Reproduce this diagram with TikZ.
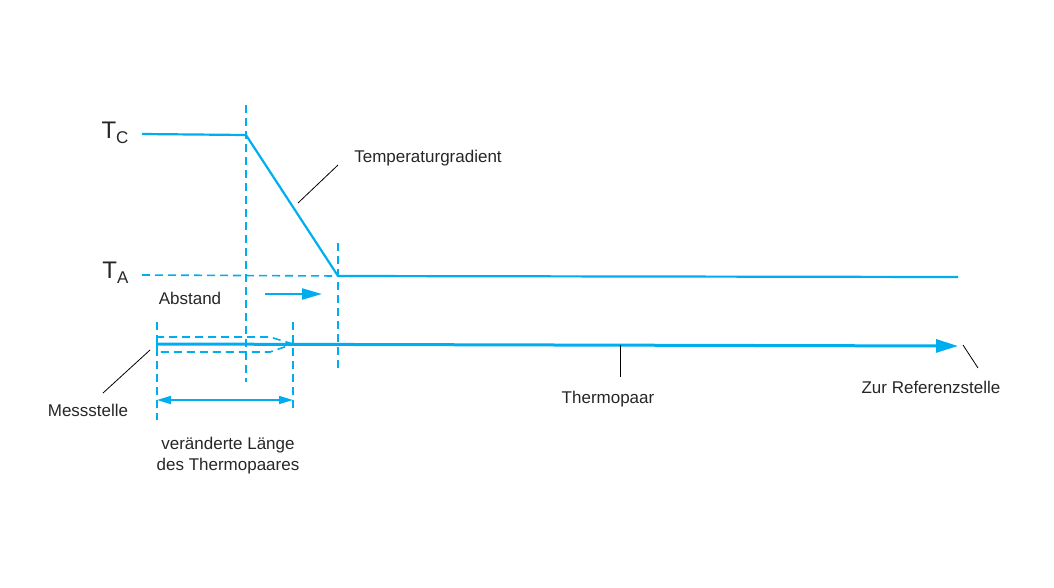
\documentclass[tikz,border=0pt]{standalone}
\usepackage{fontspec}
\setmainfont{Liberation Sans}
\usetikzlibrary{arrows.meta}
\definecolor{cy}{RGB}{0,174,239}
\begin{document}
\begin{tikzpicture}[x=1pt,y=-1pt,
  ln/.style={cy,line width=2.2pt},
  dsh/.style={cy,line width=1.6pt,dash pattern=on 8pt off 5pt},
  lbl/.style={font=\fontsize{17}{21}\selectfont,text=black!85,inner sep=1pt},
  lead/.style={black,line width=0.8pt}]
\useasboundingbox (0,0) rectangle (1054,587);
% coordinates
\coordinate (c1) at (142,134);
\coordinate (c2) at (246,135);
\coordinate (c3) at (338,276);
\coordinate (c4) at (958,277);
\coordinate (a1) at (142,275);
\coordinate (p0) at (157,344);
\coordinate (p1) at (958,346);
% TC / gradient / TA
\draw[ln,line join=miter] (c1) -- (c2) -- (c3) -- (c4);
\draw[dsh] (a1) -- (c3);
\node[font=\fontsize{24}{26}\selectfont,text=black!85,anchor=east] (tc) at (132,133) {T\raisebox{-5pt}{\fontsize{17}{19}\selectfont C}};
\node[font=\fontsize{24}{26}\selectfont,text=black!85,anchor=east] (ta) at (132,273) {T\raisebox{-5pt}{\fontsize{17}{19}\selectfont A}};
% vertical dashed
\draw[dsh] (246,105) -- (246,382);
\draw[dsh] (338,243) -- (338,370);
\draw[dsh] (157,322) -- (157,420);
\draw[dsh] (293,322) -- (293,412);
% probe outline
\draw[dsh] (293,344) -- (270,337) -- (157,337) -- (157,352) -- (270,352) -- cycle;
% thermocouple
\draw[ln,line width=3pt,-{Triangle[length=22pt,width=13pt]}] (p0) -- (p1);
% Abstand arrow
\coordinate (ab1) at (265,294);
\coordinate (ab2) at (322,294);
\draw[ln,-{Triangle[length=20pt,width=11pt]}] (ab1) -- (ab2);
\node[lbl] (abst) at (190,298) {Abstand};
% dimension
\coordinate (d1) at (157,400);
\coordinate (d2) at (293,400);
\draw[cy,line width=1.6pt,{Triangle[length=14pt,width=8pt]}-{Triangle[length=14pt,width=8pt]}] (d1) -- (d2);
\node[lbl,align=center] (vl) at (228,456) {veränderte Länge\\des Thermopaares};
% labels and leaders
\node[lbl] (tg) at (428,158) {Temperaturgradient};
\draw[lead] (298,203) -- (338,165);
\node[lbl] (ms) at (88,410) {Messstelle};
\draw[lead] (150,350) -- (103,393);
\node[lbl] (tp) at (608,399) {Thermopaar};
\draw[lead] (620,345) -- (620,377);
\node[lbl] (zr) at (931,387) {Zur Referenzstelle};
\draw[lead] (963,345) -- (978,368);
\end{tikzpicture}
\end{document}
